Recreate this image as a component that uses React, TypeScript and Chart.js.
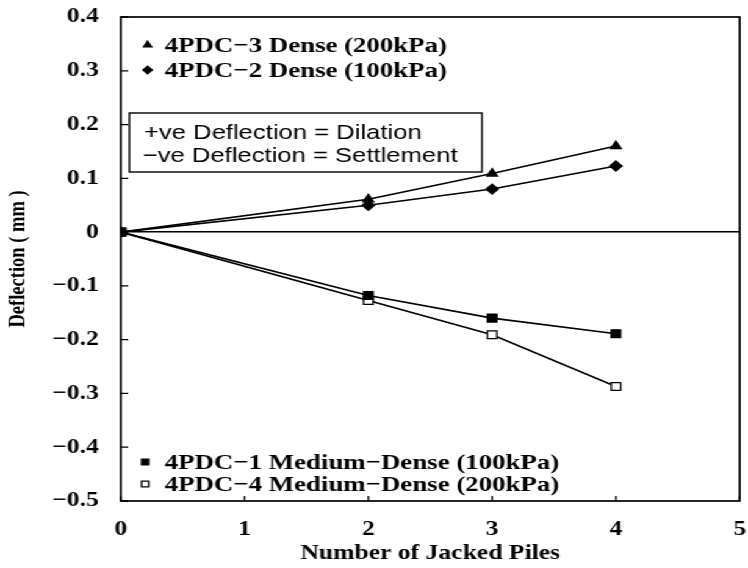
import React, { useEffect, useRef } from 'react';
import { Chart, registerables } from 'chart.js';
import { drawPoint } from 'chart.js/helpers';

Chart.register(...registerables);

// ---- data ----
const pileCounts = [0, 2, 3, 4];
const pdc3Dense200 = [0, 0.061, 0.109, 0.16];
const pdc2Dense100 = [0, 0.05, 0.08, 0.123];
const pdc1MediumDense100 = [0, -0.118, -0.16, -0.189];
const pdc4MediumDense200 = [0, -0.127, -0.191, -0.287];
const seriesLabels = [
  '4PDC−3 Dense (200kPa)',
  '4PDC−2 Dense (100kPa)',
  '4PDC−1 Medium−Dense (100kPa)',
  '4PDC−4 Medium−Dense (200kPa)',
];
const noteLines = ['+ve Deflection = Dilation', '−ve Deflection = Settlement'];
const xAxisTitle = 'Number of Jacked Piles';
const yAxisTitle = 'Deflection ( mm )';
const xRange = [0, 5];
const yRange = [-0.5, 0.4];

// ---- layout (the scanned figure is stretched horizontally) ----
const OUT_W = 748;
const OUT_H = 568;
const IN_W = 613;
const STRETCH = OUT_W / IN_W;
const SERIF = '"Liberation Serif", "Times New Roman", serif';
const SANS = '"Liberation Sans", Arial, sans-serif';

const toPoints = (ys: number[]) => pileCounts.map((x, i) => ({ x, y: ys[i] }));

const framePlugin = {
  id: 'frameAndNotes',
  afterDraw(chart: any) {
    const { ctx, chartArea, scales } = chart;
    const { left, right, top, bottom } = chartArea;
    ctx.save();
    ctx.strokeStyle = '#000';
    ctx.lineWidth = 1.7;
    ctx.strokeRect(left, top, right - left, bottom - top);

    // inward tick marks
    ctx.lineWidth = 1.3;
    ctx.beginPath();
    scales.y.ticks.forEach((t: any) => {
      const py = scales.y.getPixelForValue(t.value);
      ctx.moveTo(left, py);
      ctx.lineTo(left + 6, py);
    });
    scales.x.ticks.forEach((t: any) => {
      const px = scales.x.getPixelForValue(t.value);
      ctx.moveTo(px, bottom);
      ctx.lineTo(px, bottom - 5);
    });
    ctx.stroke();

    // note box
    ctx.lineWidth = 1.4;
    ctx.strokeRect(106, 113, 289, 59);
    ctx.fillStyle = '#000';
    ctx.font = `21px ${SANS}`;
    ctx.textBaseline = 'middle';
    ctx.textAlign = 'left';
    ctx.fillText(noteLines[0], 118, 133);
    ctx.fillText(noteLines[1], 117, 156);

    // legends
    const entries = [
      { ds: 0, mx: 121, tx: 135, y: 45 },
      { ds: 1, mx: 121, tx: 135, y: 70 },
      { ds: 2, mx: 119, tx: 135, y: 462 },
      { ds: 3, mx: 119, tx: 135, y: 484 },
    ];
    ctx.font = `bold 22px ${SERIF}`;
    entries.forEach((e) => {
      const d = chart.data.datasets[e.ds];
      ctx.fillStyle = d.pointBackgroundColor;
      ctx.strokeStyle = d.pointBorderColor;
      drawPoint(
        ctx,
        {
          pointStyle: d.pointStyle,
          rotation: 0,
          radius: d.pointRadius * 0.75,
          borderWidth: d.pointBorderWidth,
        },
        e.mx,
        e.y
      );
      ctx.fillStyle = '#000';
      ctx.fillText(d.label, e.tx, e.y + 1);
    });
    ctx.restore();
  },
};

export default function App() {
  const canvasRef = useRef<HTMLCanvasElement | null>(null);

  useEffect(() => {
    const canvas = canvasRef.current;
    if (!canvas) return;
    const mk = (i: number, ys: number[], style: string, radius: number, fill: string) => ({
      label: seriesLabels[i],
      data: toPoints(ys),
      borderColor: '#000',
      borderWidth: 1.6,
      pointStyle: style,
      pointRadius: radius,
      pointBackgroundColor: fill,
      pointBorderColor: '#000',
      pointBorderWidth: 1.3,
      tension: 0,
    });
    const chart = new Chart(canvas, {
      type: 'line',
      data: {
        datasets: [
          mk(0, pdc3Dense200, 'triangle', 5, '#000'),
          mk(1, pdc2Dense100, 'rectRot', 5, '#000'),
          mk(2, pdc1MediumDense100, 'rect', 5.5, '#000'),
          mk(3, pdc4MediumDense200, 'rect', 5.5, '#fff'),
        ] as any,
      },
      options: {
        animation: false,
        responsive: false,
        devicePixelRatio: 1,
        layout: { padding: { top: 17, right: 4, left: 0, bottom: 0 } },
        plugins: {
          legend: { display: false },
          tooltip: { enabled: false },
          title: { display: false },
        },
        scales: {
          x: {
            type: 'linear',
            min: xRange[0],
            max: xRange[1],
            grid: { display: false, drawTicks: false },
            border: { display: false },
            ticks: {
              stepSize: 1,
              color: '#000',
              font: { family: SERIF, size: 21, weight: 'bold' },
              padding: 16,
              maxRotation: 0,
              callback: (v: any) => String(v),
            },
            title: {
              display: true,
              text: xAxisTitle,
              color: '#000',
              font: { family: SERIF, size: 21, weight: 'bold' },
              padding: { top: 0, bottom: 2 },
            },
            afterFit: (s: any) => {
              s.height = OUT_H - 501;
              s.paddingLeft = 0;
              s.paddingRight = 0;
            },
          },
          y: {
            type: 'linear',
            min: yRange[0],
            max: yRange[1],
            grid: {
              drawTicks: false,
              lineWidth: 1.5,
              color: (c: any) =>
                c.tick && Math.abs(c.tick.value) < 1e-9 ? '#000' : 'rgba(0,0,0,0)',
            },
            border: { display: false },
            ticks: {
              stepSize: 0.1,
              color: '#000',
              font: { family: SERIF, size: 21, weight: 'bold' },
              padding: 18,
              callback: (v: any) => {
                const n = Number(v);
                if (Math.abs(n) < 1e-9) return '0';
                return (n < 0 ? '−' : '') + Math.abs(n).toFixed(1);
              },
            },
            title: {
              display: true,
              text: yAxisTitle,
              color: '#000',
              font: { family: SERIF, size: 18.5, weight: 'bold' },
              padding: { top: 4, bottom: 0 },
            },
            afterFit: (s: any) => {
              s.width = 99;
              s.paddingTop = 0;
              s.paddingBottom = 0;
            },
          },
        },
      } as any,
      plugins: [framePlugin],
    });
    return () => chart.destroy();
  }, []);

  return (
    <div
      style={{
        position: 'absolute',
        left: 0,
        top: 0,
        width: IN_W,
        height: OUT_H,
        background: '#fff',
        transform: `scaleX(${STRETCH})`,
        transformOrigin: '0 0',
      }}
    >
      <canvas ref={canvasRef} width={IN_W} height={OUT_H} />
    </div>
  );
}
